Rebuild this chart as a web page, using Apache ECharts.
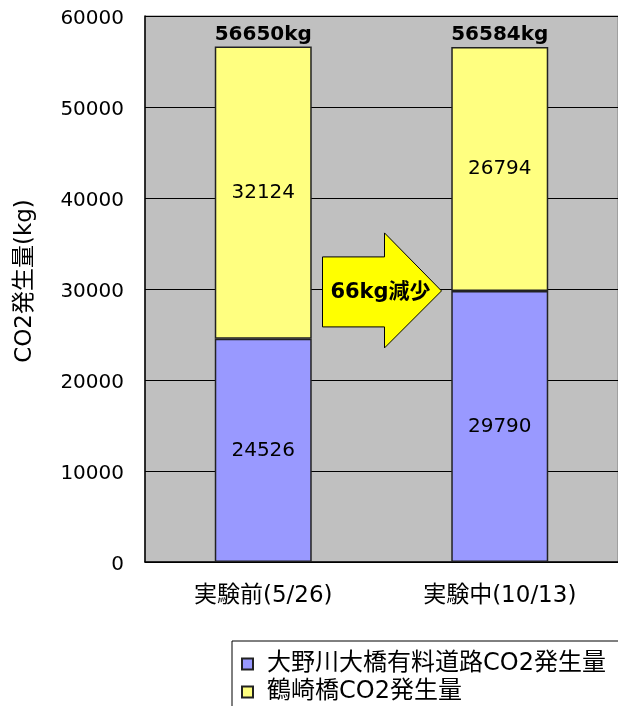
<!DOCTYPE html>
<html><head><meta charset="utf-8">
<script src="https://cdn.jsdelivr.net/npm/echarts@6/dist/echarts.min.js"></script>
<style>html,body{margin:0;padding:0;background:#fff}#c{width:618px;height:706px}</style>
</head><body><div id="c"></div>
<script>
const categories = ['実験前(5/26)', '実験中(10/13)'];
const seriesNames = ['大野川大橋有料道路CO2発生量', '鶴崎橋CO2発生量'];
const ohnogawa = [24526, 29790];
const tsurusaki = [32124, 26794];
const totals = [56650, 56584];
const yTicks = [0, 10000, 20000, 30000, 40000, 50000, 60000];
const arrowText = '66kg減少';

const FONT = '"DejaVu Sans", "Noto Sans CJK JP", sans-serif';
const chart = echarts.init(document.getElementById('c'), null, {renderer: 'canvas'});
chart.setOption({
  animation: false,
  backgroundColor: '#fff',
  textStyle: {fontFamily: FONT},
  grid: {left: 145, top: 16, width: 476, bottom: 144, show: true, backgroundColor: '#C0C0C0', borderColor: '#808080', borderWidth: 1},
  xAxis: {
    type: 'category', data: categories,
    axisLine: {lineStyle: {color: '#000', width: 1.5}},
    axisTick: {inside: true, length: 6, lineStyle: {color: '#000'}},
    axisLabel: {color: '#000', fontSize: 23, margin: 23, fontFamily: FONT}
  },
  yAxis: {
    type: 'value', min: yTicks[0], max: yTicks[yTicks.length-1], interval: 10000,
    name: 'CO2発生量(kg)', nameLocation: 'middle', nameRotate: 90, nameGap: 108,
    nameTextStyle: {color: '#000', fontSize: 23, fontFamily: FONT, padding: [0, 0, 0, 16]},
    axisLine: {show: true, lineStyle: {color: '#000', width: 1.5}},
    axisTick: {show: true, inside: true, length: 5, lineStyle: {color: '#000'}},
    axisLabel: {color: '#000', fontSize: 20, margin: 21, fontFamily: FONT,
      formatter: v => '{a|' + v + '}',
      rich: {a: {fontSize: 20, fontFamily: FONT, color: '#000', padding: [6, 0, 0, 0]}}},
    splitLine: {show: true, lineStyle: {color: '#000', width: 1}}
  },
  legend: {
    data: seriesNames, orient: 'vertical', left: 232, top: 641, height: 120,
    padding: [11, 30, 20, 9], itemGap: 4, itemWidth: 11, itemHeight: 11,
    icon: 'rect', borderColor: '#000', borderWidth: 1, backgroundColor: '#fff',
    textStyle: {color: '#000', fontSize: 24, fontFamily: FONT, padding: [0, 0, 0, 9]}
  },
  series: [
    {name: seriesNames[0], type: 'bar', stack: 's', data: ohnogawa, barWidth: '41%',
     itemStyle: {color: '#9999FF', borderColor: '#222', borderWidth: 1.5},
     label: {show: true, position: 'inside', color: '#000', fontSize: 20, fontFamily: FONT}},
    {name: seriesNames[1], type: 'bar', stack: 's', data: tsurusaki, barWidth: '41%',
     itemStyle: {color: '#FFFF80', borderColor: '#222', borderWidth: 1.5},
     label: {show: true, position: 'inside', color: '#000', fontSize: 20, fontFamily: FONT}},
    {name: 'total', type: 'bar', stack: 's', data: totals.map(() => 0), barWidth: '41%',
     itemStyle: {color: 'transparent'},
     label: {show: true, position: 'top', distance: 2, color: '#000', fontSize: 20, fontWeight: 'bold', fontFamily: FONT,
       formatter: p => totals[p.dataIndex] + 'kg'}}
  ]
});

function drawArrow() {
  const p0 = chart.convertToPixel({xAxisIndex: 0}, 0);
  const p1 = chart.convertToPixel({xAxisIndex: 0}, 1);
  const cx = (p0 + p1) / 2;
  const cy = chart.convertToPixel({yAxisIndex: 0}, ohnogawa[1]);
  const pts = [[-59,-34],[3,-34],[3,-58],[60,0],[3,57],[3,36],[-59,36]];
  chart.setOption({graphic: [{
    type: 'group', x: cx, y: cy, children: [
      {type: 'polygon', shape: {points: pts}, style: {fill: '#FFFF00', stroke: '#000', lineWidth: 1}},
      {type: 'text', x: -1, y: 2, style: {text: arrowText, fill: '#000', font: 'bold 21px ' + FONT, align: 'center', verticalAlign: 'middle'}}
    ]}]});
}
drawArrow();
</script></body></html>
